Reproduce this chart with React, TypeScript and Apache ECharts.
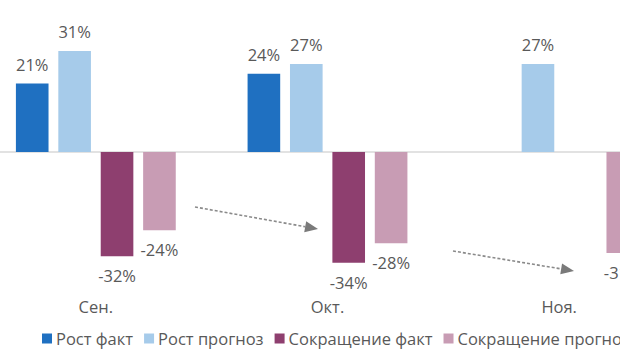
import React, { useEffect, useRef } from "react";
import * as echarts from "echarts";

const categories = ["Сен.", "Окт.", "Ноя."];
const seriesNames = ["Рост факт", "Рост прогноз", "Сокращение факт", "Сокращение прогноз"];
const growthFact = [21, 24, null];
const growthForecast = [31, 27, 27];
const cutFact = [-32, -34, null];
const cutForecast = [-24, -28, -31];
const colors = ["#1F70C1", "#A6CBEA", "#8E3F6F", "#C89CB4"];

const FONT = "'Open Sans', 'Noto Sans', sans-serif";
const TEXT = "#595959";

function arrow(x1: number, y1: number, x2: number, y2: number) {
  const ang = Math.atan2(y2 - y1, x2 - x1);
  const len = 13;
  const half = 5.5;
  const bx = x2 - len * Math.cos(ang);
  const by = y2 - len * Math.sin(ang);
  const px = -Math.sin(ang) * half;
  const py = Math.cos(ang) * half;
  return [
    {
      type: "line",
      shape: { x1, y1, x2: bx, y2: by },
      style: { stroke: "#8a8a8a", lineWidth: 1.6, lineDash: [3, 2] },
    },
    {
      type: "polygon",
      shape: { points: [[x2, y2], [bx + px, by + py], [bx - px, by - py]] },
      style: { fill: "#7a7a7a" },
    },
  ];
}

export default function App() {
  const ref = useRef<HTMLDivElement>(null);
  useEffect(() => {
    if (!ref.current) return;
    const chart = echarts.init(ref.current, null, { renderer: "svg" });
    const data = [growthFact, growthForecast, cutFact, cutForecast];
    const OFF = 20;
    chart.setOption({
      animation: false,
      color: colors,
      textStyle: { fontFamily: FONT },
      legend: {
        left: 57,
        top: 325,
        itemWidth: 10,
        itemHeight: 10,
        itemGap: 11,
        icon: "rect",
        data: seriesNames,
        textStyle: { color: TEXT, fontSize: 16.5, fontFamily: FONT, padding: [0, 0, 0, -1] },
      },
      grid: { left: 0, right: 5, top: 21.6, bottom: 75.1 },
      xAxis: [
        {
          type: "category",
          data: categories,
          position: "bottom",
          axisLine: { onZero: false, show: false },
          axisTick: { show: false },
          axisLabel: { color: TEXT, fontSize: 16.5, fontFamily: FONT, margin: 9 },
        },
        {
          type: "category",
          data: categories,
          axisLine: { onZero: true, lineStyle: { color: "#d9d9d9", width: 1.5 } },
          axisTick: { show: false },
          axisLabel: { show: false },
        },
      ],
      yAxis: {
        type: "value",
        min: -42,
        max: 40,
        show: false,
        splitLine: { show: false },
      },
      series: seriesNames.map((name, i) => ({
        name,
        type: "bar",
        data: data[i],
        barCategoryGap: "31%",
        barGap: "30%",
        itemStyle: { color: colors[i] },
        label: {
          show: true,
          position: i < 2 ? "top" : "bottom",
          distance: 11,
          formatter: (p: any) => p.value + "%",
          color: TEXT,
          fontSize: 16.5,
          fontFamily: FONT,
        },
      })),
      graphic: [
        ...arrow(195 + OFF, 207, 318 + OFF, 229),
        ...arrow(453 + OFF, 251, 574 + OFF, 271),
      ],
    });
    return () => chart.dispose();
  }, []);
  return (
    <div style={{ position: "fixed", left: 0, top: 0, width: 620, height: 364, overflow: "hidden", background: "#fff" }}>
      <div ref={ref} style={{ position: "absolute", left: -20, top: 0, width: 700, height: 364 }} />
    </div>
  );
}
